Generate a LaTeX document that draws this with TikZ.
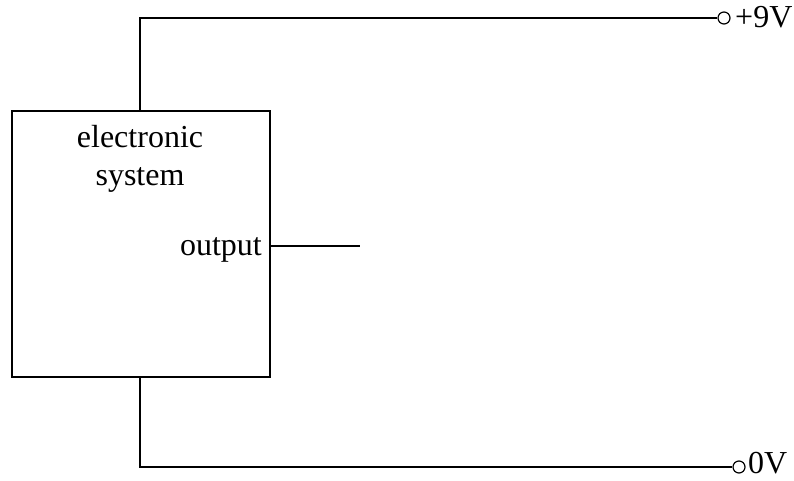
\documentclass[tikz,border=0pt]{standalone}
\usepackage{fontspec}
\setmainfont{Liberation Serif}
\begin{document}
\begin{tikzpicture}[x=1pt,y=-1pt,
  wire/.style={line width=1.6pt},
  term/.style={circle,draw,line width=1.2pt,minimum size=12pt,inner sep=0pt},
  lbl/.style={font=\fontsize{32}{36}\selectfont,inner sep=0pt}]
\useasboundingbox (0,0) rectangle (794,481);
\node[draw,wire,minimum width=258pt,minimum height=266pt,inner sep=0pt,anchor=north west] (sys) at (11,110) {};
\node[lbl,anchor=base] (t1) at (140,148) {electronic};
\node[lbl,anchor=base] (t2) at (140,185) {system};
\node[lbl,anchor=base east] (out) at (262,255) {output};
\coordinate (topj) at (140,110);
\coordinate (botj) at (140,376);
\node[term] (vp) at (724,18) {};
\node[term] (v0) at (739,467) {};
\node[lbl,anchor=base west] (vpl) at (735,28) {+9V};
\node[lbl,anchor=base west] (v0l) at (748,473) {0V};
\coordinate (o1) at (269,246);
\coordinate (o2) at (360,246);
\draw[wire] (topj) |- (vp.west);
\draw[wire] (botj) |- (v0.west);
\draw[wire] (o1) -- (o2);
\end{tikzpicture}
\end{document}
